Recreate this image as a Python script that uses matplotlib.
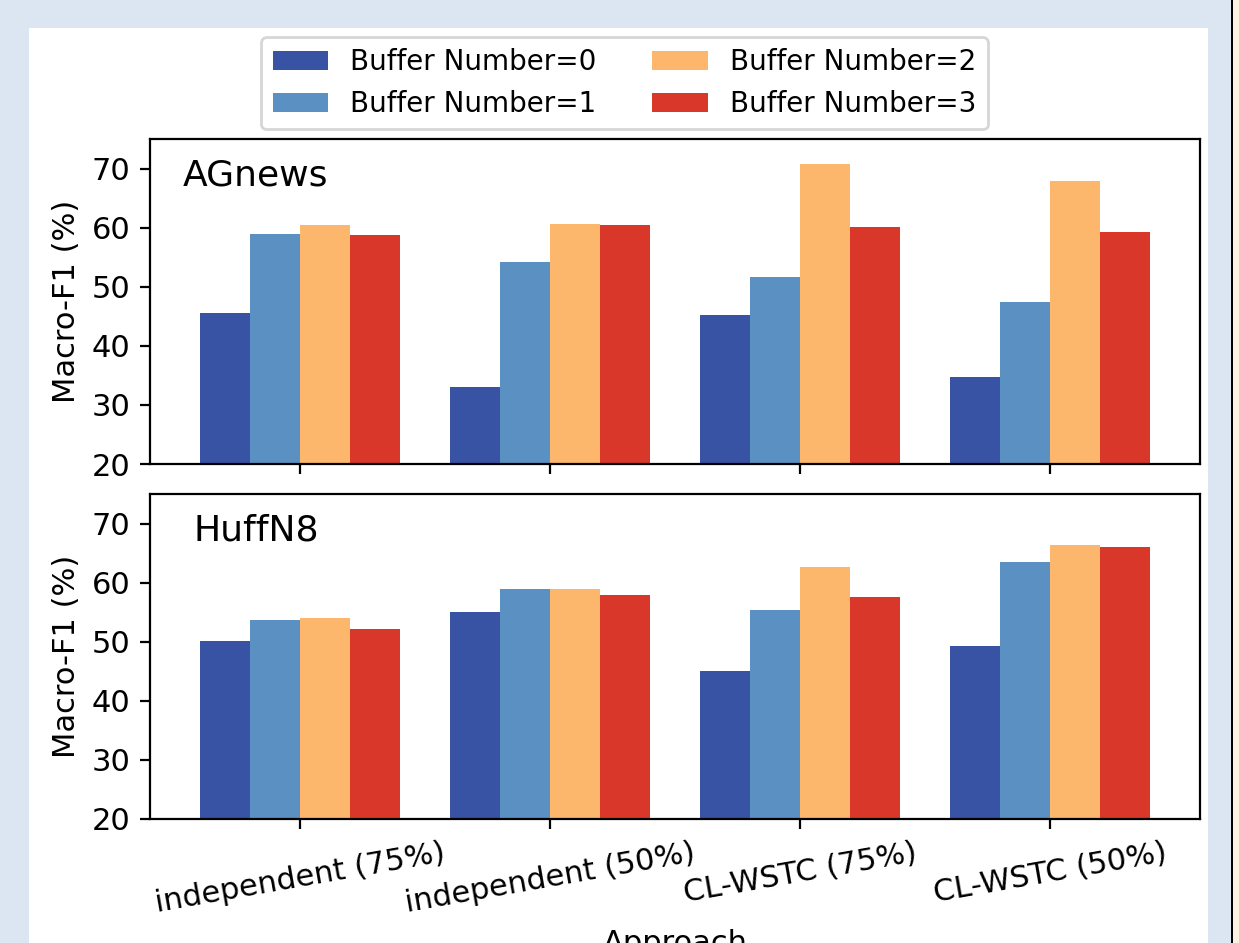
import matplotlib
matplotlib.use("Agg")
import matplotlib.pyplot as plt
import numpy as np
from matplotlib.patches import Rectangle

# --- data ------------------------------------------------------------------
approaches = ["independent (75%)", "independent (50%)", "CL-WSTC (75%)", "CL-WSTC (50%)"]
buffer_labels = ["Buffer Number=0", "Buffer Number=1", "Buffer Number=2", "Buffer Number=3"]

agnews = [
    [45.6, 33.0, 45.3, 34.7],   # buffer 0
    [58.9, 54.2, 51.7, 47.5],   # buffer 1
    [60.4, 60.6, 70.7, 67.9],   # buffer 2
    [58.7, 60.4, 60.1, 59.2],   # buffer 3
]
huffn8 = [
    [50.1, 55.1, 45.1, 49.3],
    [53.7, 59.0, 55.4, 63.5],
    [54.0, 59.0, 62.6, 66.3],
    [52.1, 57.9, 57.6, 66.0],
]

colors = ["#3953a4", "#5b90c2", "#fcb76c", "#d9372a"]

# --- figure (screenshot frame around a white figure) -----------------------
W, H = 1239, 943
fig = plt.figure(figsize=(W / 200, H / 200), dpi=200)
fig.patch.set_facecolor("#dce6f2")
fig.add_artist(Rectangle((29 / W, 0), (1208 - 29) / W, 1 - 28 / H,
                         transform=fig.transFigure, facecolor="white", edgecolor="none", zorder=0))
fig.add_artist(Rectangle((1231 / W, 0), 2 / W, 1, transform=fig.transFigure,
                         facecolor="black", edgecolor="none", zorder=0))
fig.add_artist(Rectangle((1233 / W, 0), 6 / W, 1, transform=fig.transFigure,
                         facecolor="#fdf2e1", edgecolor="none", zorder=0))

left, right = 150 / W, 1200 / W
ax_top = fig.add_axes([left, 1 - 464 / H, right - left, 325 / H])
ax_bot = fig.add_axes([left, 1 - 819 / H, right - left, 325 / H])

x = np.arange(len(approaches))
width = 0.2
offsets = [-1.5 * width, -0.5 * width, 0.5 * width, 1.5 * width]

for ax, data, name, tx in [(ax_top, agnews, "AGnews", 0.031), (ax_bot, huffn8, "HuffN8", 0.041)]:
    for i in range(4):
        ax.bar(x + offsets[i], data[i], width, color=colors[i], label=buffer_labels[i], linewidth=0)
    ax.set_ylim(20, 75)
    ax.set_xlim(-0.6, 3.6)
    ax.set_yticks([20, 30, 40, 50, 60, 70])
    ax.set_ylabel("Macro-F1 (%)", fontsize=11)
    ax.tick_params(labelsize=11)
    ax.set_xticks(x)
    ax.text(tx, 0.94, name, transform=ax.transAxes, fontsize=13, va="top", ha="left")

ax_top.set_xticklabels([])
ax_bot.set_xticklabels(approaches, rotation=10, ha="center")
ax_bot.set_xlabel("Approach", fontsize=11)

handles, labels = ax_top.get_legend_handles_labels()
fig.legend(handles, labels, ncol=2, fontsize=10, loc="upper center",
           bbox_to_anchor=(624.5 / W, 1 - 37 / H), borderaxespad=0)

fig.savefig("out.png", dpi=200, facecolor=fig.get_facecolor())
